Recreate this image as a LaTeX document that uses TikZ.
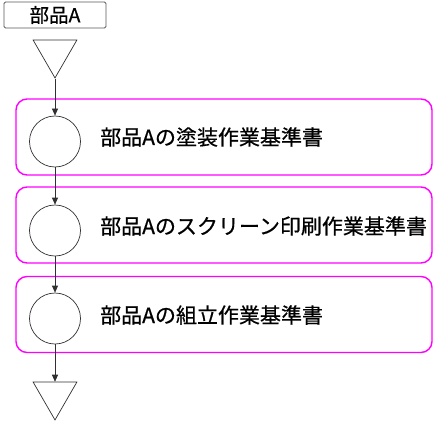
\documentclass[tikz,border=0pt]{standalone}
\usepackage{fontspec}
\setmainfont{Noto Sans CJK JP}
\newfontfamily\lblfont[FakeBold=0.6]{Noto Sans CJK JP}
\usetikzlibrary{shapes.geometric,arrows.meta}
\definecolor{mag}{HTML}{FF00FF}
\definecolor{ln}{HTML}{303030}
\tikzset{
  mbox/.style={draw=mag,line width=1.4pt,rounded corners=11pt,minimum width=416pt,minimum height=76pt,inner sep=0pt},
  opcircle/.style={circle,draw=ln,line width=0.7pt,minimum size=51pt,inner sep=0pt},
  storetri/.style={regular polygon,regular polygon sides=3,shape border rotate=180,draw=ln,line width=0.7pt,minimum size=50.5pt,inner sep=0pt},
  partbox/.style={draw=ln!80,line width=0.8pt,rounded corners=1.5pt,minimum width=102pt,minimum height=26pt,inner sep=0pt,font=\lblfont\fontsize{19.5pt}{21pt}\selectfont},
  lbl/.style={anchor=west,inner sep=0pt,font=\lblfont\fontsize{21pt}{23pt}\selectfont},
  flow/.style={draw=ln,line width=0.7pt,-{Triangle[length=7pt,width=6pt]}}
}
\begin{document}
\begin{tikzpicture}[x=1pt,y=-1pt]
\useasboundingbox (0,0) rectangle (435,422);
\node[partbox] (part) at (55,15) {部品A};
\node[storetri] (t1) at (55,52.7) {};
\node[mbox] (b1) at (224,137) {};
\node[mbox] (b2) at (224,225) {};
\node[mbox] (b3) at (224,314.5) {};
\node[opcircle] (c1) at (55,141.5) {};
\node[opcircle] (c2) at (55,230.5) {};
\node[opcircle] (c3) at (55,318.5) {};
\node[storetri] (t2) at (55,394.7) {};
\node[lbl] (l1) at (100,137) {部品Aの塗装作業基準書};
\node[lbl] (l2) at (100,226) {部品Aのスクリーン印刷作業基準書};
\node[lbl] (l3) at (100,315) {部品Aの組立作業基準書};
\draw[flow] (t1.south) -- (c1.north);
\draw[flow] (c1.south) -- (c2.north);
\draw[flow] (c2.south) -- (c3.north);
\draw[flow] (c3.south) -- (t2.north);
\end{tikzpicture}
\end{document}
